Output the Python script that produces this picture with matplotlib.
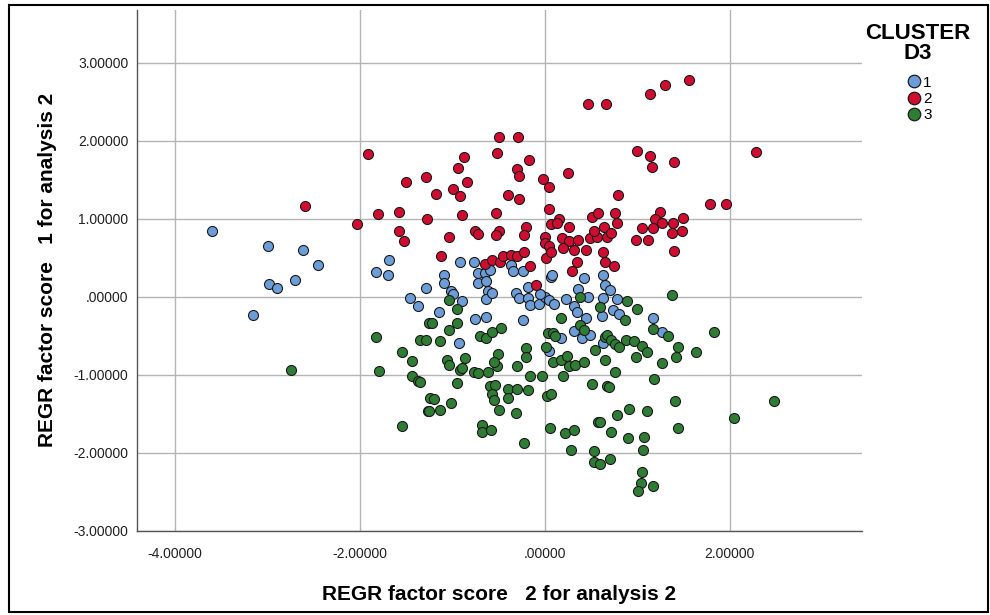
import matplotlib.pyplot as plt
import matplotlib.ticker as mticker
from matplotlib.lines import Line2D
from matplotlib.patches import Rectangle

plt.rcParams['font.family'] = ['Liberation Sans', 'DejaVu Sans']

# REGR factor scores (x = score 2, y = score 1) by cluster
c1_x = [-3.60, -2.99, -2.61, -2.45, -2.70, -2.98, -2.89, -3.15,
        -1.68, -1.82, -1.69, -1.28, -1.46, -1.37,
        -0.92, -0.76, -1.09, -1.09, -1.01, -0.99, -0.90,
        -0.72, -0.72, -0.65, -0.63, -0.59, -0.61, -0.63, -0.57,
        -0.36, -0.34, -0.24, -0.18, -0.31, -0.28,
        -0.18, -0.16, -0.06, 0.00, 0.05, 0.10, -0.05,
        0.07, 0.08, 0.23, 0.42, 0.36, 0.31, 0.35, 0.44, 0.40, 0.49, 0.31,
        0.47, 0.63, 0.65, 0.63, 0.62, 0.63,
        -1.14, -0.75, -0.64, -0.24, -0.93, 0.04, 0.17,
        0.70, 0.78, 0.74, 0.80, 1.17, 1.27]
c1_y = [0.84, 0.65, 0.60, 0.41, 0.22, 0.16, 0.11, -0.23,
        0.47, 0.32, 0.28, 0.11, -0.02, -0.12,
        0.45, 0.45, 0.28, 0.18, 0.07, 0.04, -0.05,
        0.30, 0.18, 0.30, 0.20, 0.35, 0.07, -0.03, 0.05,
        0.41, 0.33, 0.33, 0.12, 0.05, -0.02,
        -0.02, -0.10, -0.09, 0.00, -0.04, -0.09, 0.03,
        0.26, 0.28, -0.03, 0.24, 0.10, -0.12, -0.19, -0.27, -0.53, -0.49, -0.44,
        0.00, 0.28, 0.15, -0.02, -0.25, -0.59,
        -0.19, -0.29, -0.26, -0.30, -0.59, -0.70, -0.53,
        0.09, -0.03, -0.17, -0.22, -0.27, -0.45]

c2_x = [-2.59, -2.03, -1.91, -1.80, -1.57, -1.50, -1.57, -1.52, -1.28, -1.27,
        -1.18, -0.99, -0.92, -0.94, -0.87, -0.84, -0.90, -1.04, -1.12,
        -0.75, -0.72, -0.49, -0.53, -0.53, -0.50, -0.29, -0.52, -0.17, -0.30, -0.28, -0.40, -0.28,
        -0.02, 0.05, 0.25, 0.05, 0.15, 0.07, 0.13, 0.26, -0.20, -0.22, 0.00, 0.00,
        0.47, 0.66, 1.00, 1.14, 1.30, 1.56, 1.14, 1.16, 1.40, 2.28, 1.79, 1.96, 0.79,
        0.51, 0.57, 0.76, 0.78, 0.19, 0.26, 0.31, 0.20, 0.36, 0.45, 0.49, 0.56, 0.53, 0.64, 0.67, 0.72, 0.63,
        0.99, 1.05, 1.11, 1.24, 1.19, 1.27, 1.17, 1.39, 1.37, 1.48, 1.49, 1.40,
        -0.65, -0.57, -0.48, -0.45, -0.36, -0.30, -0.22, -0.16, 0.01, 0.04, 0.07, 0.35, 0.29, -0.09, 0.65, 0.75]
c2_y = [1.17, 0.94, 1.83, 1.06, 1.09, 1.47, 0.84, 0.72, 1.54, 1.00,
        1.32, 1.38, 1.29, 1.65, 1.79, 1.47, 1.05, 0.77, 0.52,
        0.85, 0.81, 0.84, 0.79, 1.07, 2.05, 2.05, 1.84, 1.75, 1.64, 1.55, 1.30, 1.25,
        1.51, 1.41, 1.59, 1.12, 1.00, 0.93, 0.95, 0.89, 0.90, 0.79, 0.77, 0.69,
        2.47, 2.47, 1.87, 2.60, 2.72, 2.78, 1.81, 1.67, 1.73, 1.86, 1.19, 1.19, 1.31,
        1.02, 1.07, 1.07, 0.95, 0.75, 0.71, 0.60, 0.62, 0.73, 0.60, 0.75, 0.77, 0.84, 0.90, 0.77, 0.82, 0.57,
        0.73, 0.88, 0.73, 1.09, 1.00, 0.95, 0.88, 0.95, 0.82, 0.85, 1.01, 0.59,
        0.42, 0.47, 0.44, 0.52, 0.53, 0.52, 0.57, 0.40, 0.50, 0.65, 0.58, 0.44, 0.33, 0.15, 0.45, 0.40]

c3_x = [-2.74, -1.82, -1.25, -1.35, -1.28, -1.54, -1.44, -1.79, -1.43, -1.37, -1.26, -1.54, -1.24,
        -1.04, -0.95, -1.22, -1.04, -0.95, -1.13,
        -0.70, -0.63, -0.57, -0.47,
        -1.06, -1.04, -0.86, -0.92, -0.90, -1.35,
        -0.77, -0.72, -0.61, -0.52, -0.51, -0.55,
        -0.20, -0.20, -0.30, -0.16, -0.03, -0.95,
        -0.59, -0.54, -0.57, -0.55, -0.40, -0.30, -0.18, -0.40,
        -1.20, -1.01, -1.25, -1.13, -0.49, -0.31, -0.68, -0.68, -0.58, -0.22,
        0.01, 0.03, 0.09, 0.11, 0.17,
        0.09, 0.18, 0.24, 0.26, 0.20, 0.33, 0.42,
        0.02, 0.07, 0.06, 0.22, 0.32, 0.28, 0.51, 0.57, 0.53, 0.53, 0.60,
        0.38, 0.38, 0.42, 0.60, 0.65, 0.54, 0.65, 0.67,
        1.37, 0.89, 1.00, 0.87, 1.17, 1.33, 1.83,
        0.67, 0.71, 0.76, 0.80, 0.88, 0.96, 1.05, 1.10, 0.99,
        1.44, 1.42, 1.63, 1.27, 0.76, 1.18, 0.69,
        1.41, 2.48, 2.04, 0.91, 0.78, 1.10, 1.44, 0.72, 0.90, 1.07, 1.06, 0.70, 1.05, 1.04, 1.01, 1.17, 0.60]
c3_y = [-0.94, -0.51, -0.33, -0.56, -0.56, -0.71, -0.82, -0.95, -1.02, -1.08, -1.46, -1.66, -1.30,
        -0.04, -0.16, -0.33, -0.42, -0.34, -0.57,
        -0.50, -0.53, -0.45, -0.40,
        -0.81, -0.87, -0.79, -0.94, -0.91, -1.09,
        -0.96, -0.98, -0.96, -0.89, -0.73, -0.84,
        -0.66, -0.77, -0.89, -1.01, -1.01, -1.10,
        -1.15, -1.13, -1.24, -1.32, -1.18, -1.18, -1.19, -1.30,
        -1.31, -1.36, -1.46, -1.45, -1.45, -1.49, -1.64, -1.73, -1.71, -1.88,
        -0.64, -0.47, -0.47, -0.50, -0.27,
        -0.83, -0.81, -0.76, -0.89, -1.01, -0.87, -0.84,
        -1.27, -1.24, -1.68, -1.75, -1.71, -1.96, -1.12, -1.61, -1.98, -2.12, -2.15,
        0.00, -0.36, -0.42, -0.13, -0.51, -0.68, -0.81, -1.14,
        0.02, -0.05, -0.15, -0.30, -0.41, -0.50, -0.45,
        -0.49, -0.55, -0.60, -0.65, -0.55, -0.57, -0.63, -0.71, -0.77,
        -0.64, -0.77, -0.71, -0.85, -0.96, -1.05, -1.16,
        -1.34, -1.33, -1.56, -1.44, -1.51, -1.47, -1.68, -1.73, -1.81, -1.80, -1.96, -2.08, -2.25, -2.39, -2.49, -2.42, -1.61]

clusters = ['1', '2', '3']
colors = ['#6c9dd9', '#d00c30', '#2f7d35']

fig = plt.figure(figsize=(9.9, 6.15), dpi=100)
ax = fig.add_axes([0.138, 0.137, 0.733, 0.847])

for xs, ys, col in zip([c1_x, c2_x, c3_x], [c1_y, c2_y, c3_y], colors):
    ax.scatter(xs, ys, s=52, color=col, edgecolor='#1a1a1a', linewidths=0.8, zorder=3)

ax.set_xlim(-4.41, 3.43)
ax.set_ylim(-3.0, 3.68)
ax.set_xticks([-4, -2, 0, 2])
ax.set_yticks([-3, -2, -1, 0, 1, 2, 3])


def spss_fmt(v, pos):
    s = f'{v:.5f}'
    if s.startswith('0.'):
        s = s[1:]
    elif s.startswith('-0.'):
        s = '-' + s[2:]
    return s


ax.xaxis.set_major_formatter(mticker.FuncFormatter(spss_fmt))
ax.yaxis.set_major_formatter(mticker.FuncFormatter(spss_fmt))
ax.tick_params(length=0, labelsize=10, colors='#222222')
ax.tick_params(axis='x', pad=12)
ax.tick_params(axis='y', pad=6)

ax.grid(True, color='#b4b4b4', linewidth=1.0, zorder=0)
ax.set_axisbelow(True)
for side in ['top', 'right']:
    ax.spines[side].set_visible(False)
for side in ['left', 'bottom']:
    ax.spines[side].set_color('#555555')
    ax.spines[side].set_linewidth(1.0)

ax.set_xlabel('REGR factor score   2 for analysis 2', fontsize=15, fontweight='bold', labelpad=17)
ax.set_ylabel('REGR factor score   1 for analysis 2', fontsize=15, fontweight='bold', labelpad=12)

# Cluster legend to the right of the plot
fig.text(0.927, 0.963, 'CLUSTER\nD3', ha='center', va='top', fontsize=16,
         fontweight='bold', linespacing=0.95)
handles = [Line2D([], [], linestyle='none', marker='o', markersize=9,
                  markerfacecolor=c, markeredgecolor='#1a1a1a', markeredgewidth=0.9)
           for c in colors]
fig.legend(handles, clusters, loc='upper left', bbox_to_anchor=(0.911, 0.887),
           frameon=False, fontsize=11, handlelength=0.8, handletextpad=0.2,
           labelspacing=0.15, borderaxespad=0)

# Outer frame around the whole chart
fig.patches.append(Rectangle((0.009, 0.005), 0.989, 0.987, transform=fig.transFigure,
                             fill=False, edgecolor='black', linewidth=1.5))

fig.savefig('out.png', dpi=100)
